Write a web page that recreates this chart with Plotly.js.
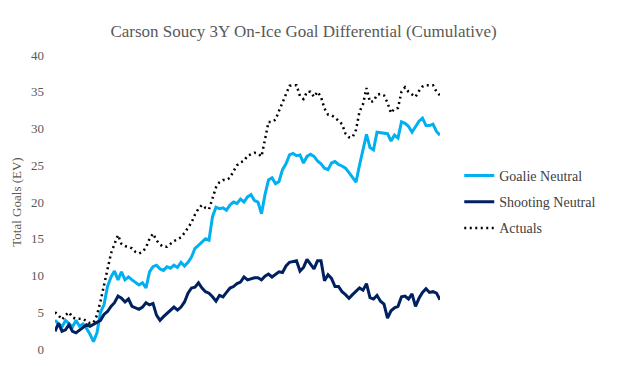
<!DOCTYPE html>
<html>
<head>
<meta charset="utf-8">
<script src="https://cdn.plot.ly/plotly-3.0.1.min.js"></script>
<style>html,body{margin:0;padding:0;background:#fff;}#chart{width:622px;height:366px;}</style>
</head>
<body>
<div id="chart"></div>
<script>
const seriesNames = ["Goalie Neutral", "Shooting Neutral", "Actuals"];
const yTicks = [0, 5, 10, 15, 20, 25, 30, 35, 40];

const goalieNeutral = [
  3.9, 3.4, 3.0, 3.9, 3.4, 3.0, 3.9, 3.1, 3.4, 2.8,
  2.0, 1.0, 2.2, 5.0, 6.0, 8.5, 9.8, 10.6, 9.4, 10.5,
  9.4, 9.8, 9.4, 9.0, 8.7, 9.0, 8.3, 10.5, 11.2, 11.4,
  10.9, 10.7, 11.2, 11.0, 11.4, 11.1, 11.8, 11.3, 11.8, 12.5,
  13.7, 14.1, 14.6, 15.0, 14.8, 18.0, 19.3, 19.1, 19.2, 18.9,
  19.6, 20.0, 19.8, 20.4, 20.0, 20.7, 21.0, 20.2, 20.0, 18.4,
  21.0, 23.0, 23.3, 22.5, 22.8, 24.4, 25.2, 26.4, 26.6, 26.3,
  26.4, 25.3, 26.2, 26.5, 26.2, 25.6, 25.2, 24.6, 24.4, 25.3,
  25.5, 25.1, 24.9, 24.6, 24.0, 23.3, 22.7, 25.0, 27.3, 29.2,
  27.4, 27.1, 29.5, 29.4, 29.4, 29.3, 28.3, 29.1, 28.7, 30.9,
  30.7, 30.3, 29.5, 30.3, 31.0, 31.4, 30.4, 30.4, 30.6, 29.6,
  29.1
];

const shootingNeutral = [
  2.4, 3.5, 2.4, 2.6, 3.3, 2.4, 2.2, 2.6, 3.0, 3.3,
  3.1, 3.4, 3.6, 3.9, 4.7, 5.1, 5.8, 6.3, 7.2, 6.9,
  6.4, 6.8, 5.8, 5.6, 5.4, 5.7, 6.3, 6.0, 6.2, 4.6,
  3.9, 4.4, 4.8, 5.3, 5.7, 5.3, 5.7, 6.4, 7.6, 8.3,
  8.4, 9.0, 8.3, 7.8, 7.6, 7.1, 6.5, 7.3, 7.1, 7.7,
  8.3, 8.5, 8.9, 9.1, 9.8, 9.4, 9.6, 9.7, 9.7, 9.4,
  9.9, 10.2, 9.8, 10.1, 10.5, 10.4, 11.3, 11.8, 11.9, 12.0,
  10.6, 11.1, 12.2, 11.6, 10.9, 12.0, 12.0, 9.3, 10.1, 9.6,
  8.5, 8.5, 7.8, 7.4, 6.9, 7.4, 7.8, 8.3, 8.0, 8.9,
  7.0, 6.8, 7.3, 6.5, 6.1, 4.2, 5.2, 5.6, 5.8, 7.1,
  7.2, 6.8, 7.5, 5.8, 6.9, 7.7, 8.2, 7.7, 7.8, 7.6,
  6.7
];

const actuals = [
  5.0, 4.6, 4.0, 4.6, 5.0, 4.3, 4.1, 4.1, 4.1, 3.8,
  3.5, 3.6, 4.6, 6.5, 8.6, 11.0, 13.0, 14.3, 15.5, 14.3,
  14.0, 13.9, 13.7, 13.2, 13.0, 13.2, 13.8, 15.0, 15.7, 14.8,
  14.2, 13.9, 13.9, 14.3, 14.7, 14.9, 15.2, 15.8, 16.5, 17.2,
  18.3, 19.1, 19.6, 19.2, 19.0, 20.4, 22.0, 22.7, 23.0, 23.0,
  23.3, 24.2, 25.0, 25.4, 25.6, 26.3, 26.5, 26.7, 26.6, 26.2,
  28.5, 30.9, 30.9, 31.2, 32.4, 33.5, 34.8, 35.8, 35.9, 35.9,
  34.4, 34.0, 35.0, 35.0, 34.3, 35.0, 34.3, 32.7, 31.9, 31.8,
  31.5, 31.1, 30.6, 29.3, 28.8, 28.8, 29.8, 32.3, 33.3, 35.5,
  33.6, 33.7, 34.6, 34.7, 34.5, 33.5, 32.1, 32.7, 32.8, 35.0,
  35.6, 35.0, 34.7, 34.3, 35.1, 35.7, 35.9, 35.9, 35.9, 35.0,
  34.5
];

const games = goalieNeutral.map((_, i) => i + 1);

const serif = "'Liberation Serif', 'DejaVu Serif', serif";

const traces = [
  {x: games, y: goalieNeutral, name: seriesNames[0], type: "scatter", mode: "lines",
   legendgroup: "g1", line: {color: "#00B0F0", width: 3}},
  {x: games, y: shootingNeutral, name: seriesNames[1], type: "scatter", mode: "lines",
   legendgroup: "g2", line: {color: "#002060", width: 3}},
  {x: games, y: actuals, name: seriesNames[2], type: "scatter", mode: "lines",
   legendgroup: "g3", line: {color: "#000000", width: 2.5, dash: "2px,3.5px"}}
];

const layout = {
  width: 622, height: 366,
  margin: {l: 55, r: 182, t: 55, b: 17},
  paper_bgcolor: "#ffffff", plot_bgcolor: "#ffffff",
  font: {family: serif, color: "#595959", size: 13},
  title: {text: "Carson Soucy 3Y On-Ice Goal Differential (Cumulative)",
          font: {family: serif, size: 17, color: "#595959"},
          x: 0.488, xanchor: "center", xref: "container",
          y: 0.915, yanchor: "middle", yref: "container"},
  showlegend: true,
  legend: {x: 1.05, xanchor: "left", y: 0.5, yanchor: "middle",
           font: {family: serif, size: 14, color: "#404040"},
           tracegroupgap: 5, bgcolor: "rgba(0,0,0,0)"},
  xaxis: {range: [1, 111], visible: false, showgrid: false, zeroline: false},
  yaxis: {range: [0, 40], tickvals: yTicks, ticktext: yTicks.map(String),
          showgrid: false, zeroline: false, showline: false, ticks: "",
          ticklabelstandoff: 10,
          tickfont: {family: serif, size: 13, color: "#595959"},
          title: {text: "Total Goals (EV)", font: {family: serif, size: 13, color: "#595959"}, standoff: 6}}
};

Plotly.newPlot("chart", traces, layout, {displayModeBar: false, staticPlot: true});
</script>
</body>
</html>
